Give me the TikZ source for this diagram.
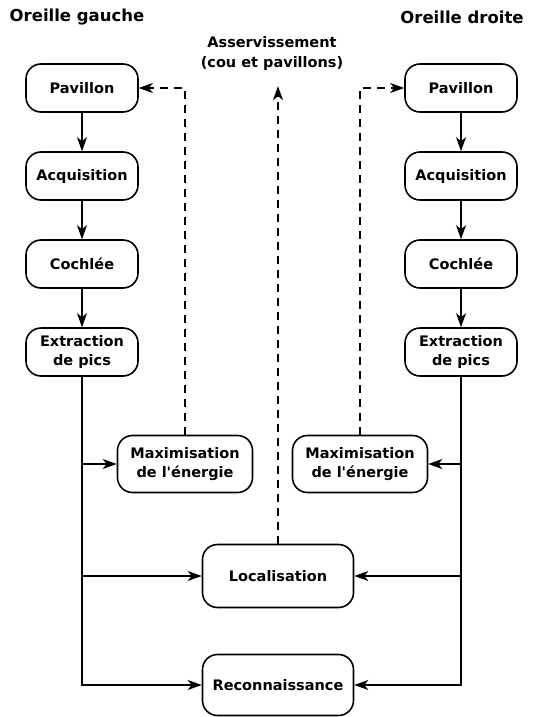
\documentclass[tikz,border=0pt]{standalone}
\usepackage{fontspec}
\setmainfont{DejaVu Sans}
\usetikzlibrary{arrows.meta,calc}

\begin{document}
\begin{tikzpicture}[x=1pt,y=-1pt,line width=1.6pt,
  bloc/.style={draw,rounded corners=15pt,minimum width=112pt,minimum height=48pt,
    align=center,font=\fontsize{14.5}{19}\selectfont\bfseries,inner sep=2pt},
  fleche/.style={-{Stealth[length=14pt,width=10pt,inset=4pt]}},
  retour/.style={fleche,dash pattern=on 8pt off 6pt}]
\useasboundingbox (0,0) rectangle (534,717);

% titres
\node[font=\fontsize{16.5}{20}\selectfont\bfseries] (titreG) at (77,17) {Oreille gauche};
\node[font=\fontsize{16.5}{20}\selectfont\bfseries] (titreD) at (462,17) {Oreille droite};
\node[font=\fontsize{14.5}{20}\selectfont\bfseries,align=center] (asserv) at (272,53) {Asservissement\\(cou et pavillons)};

% oreille gauche
\node[bloc] (pavG) at (82,88) {Pavillon};
\node[bloc] (acqG) at (82,176) {Acquisition};
\node[bloc] (cocG) at (82,264) {Cochlée};
\node[bloc] (extG) at (82,352) {Extraction\\de pics};

% oreille droite
\node[bloc] (pavD) at (461,88) {Pavillon};
\node[bloc] (acqD) at (461,176) {Acquisition};
\node[bloc] (cocD) at (461,264) {Cochlée};
\node[bloc] (extD) at (461,352) {Extraction\\de pics};

% traitements
\node[bloc,minimum width=135pt,minimum height=57pt] (maxG) at (185,464) {Maximisation\\de l\textquotesingle énergie};
\node[bloc,minimum width=135pt,minimum height=57pt] (maxD) at (360,464) {Maximisation\\de l\textquotesingle énergie};
\node[bloc,minimum width=151pt,minimum height=63pt] (loc) at (278,576) {Localisation};
\node[bloc,minimum width=151pt,minimum height=61pt] (rec) at (278,685) {Reconnaissance};

% chaines
\draw[fleche] (pavG) -- (acqG);
\draw[fleche] (acqG) -- (cocG);
\draw[fleche] (cocG) -- (extG);
\draw[fleche] (pavD) -- (acqD);
\draw[fleche] (acqD) -- (cocD);
\draw[fleche] (cocD) -- (extD);

% distribution des pics
\draw[fleche] (extG.south) |- (rec.west);
\draw[fleche] (extG.south |- maxG.west) -- (maxG.west);
\draw[fleche] (extG.south |- loc.west) -- (loc.west);
\draw[fleche] (extD.south) |- (rec.east);
\draw[fleche] (extD.south |- maxD.east) -- (maxD.east);
\draw[fleche] (extD.south |- loc.east) -- (loc.east);

% asservissement
\draw[retour] (maxG.north) |- (pavG.east);
\draw[retour] (maxD.north) |- (pavD.west);
\draw[retour,shorten >=12pt] (loc.north) -- (loc.north |- asserv.south);
\end{tikzpicture}
\end{document}
